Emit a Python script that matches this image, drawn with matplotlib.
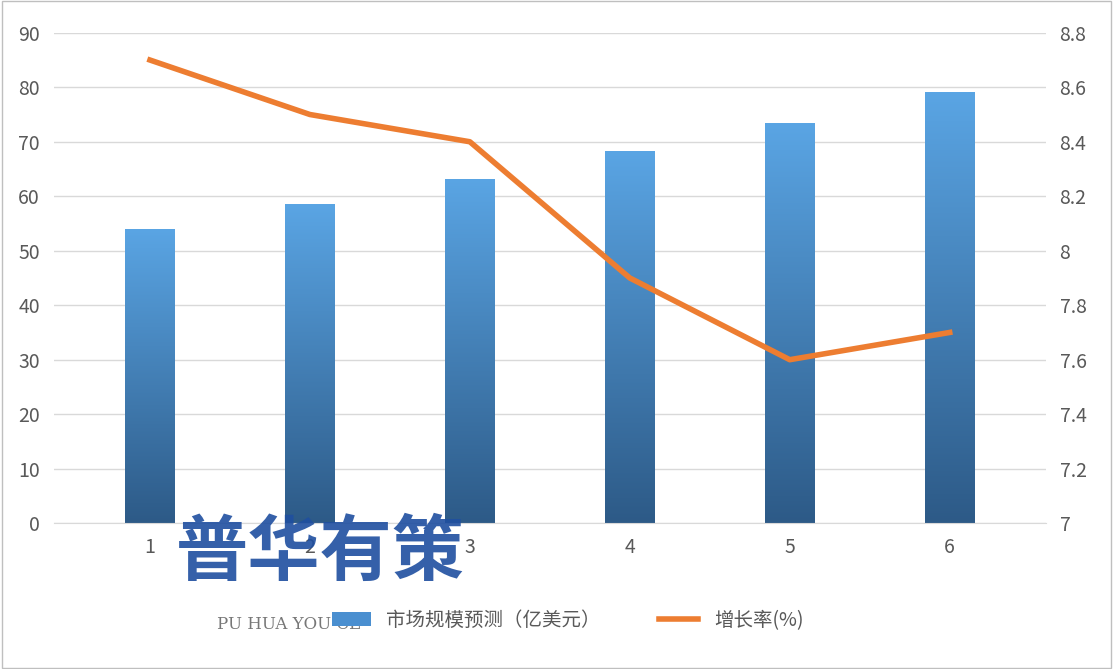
import numpy as np
import matplotlib.pyplot as plt
from matplotlib.colors import LinearSegmentedColormap
from matplotlib.patches import Patch
from matplotlib.lines import Line2D

plt.rcParams['font.family'] = ['Noto Sans CJK SC', 'DejaVu Sans']

categories = ['1', '2', '3', '4', '5', '6']
market_size = [54, 58.5, 63.2, 68.3, 73.4, 79.1]
growth_rate = [8.7, 8.5, 8.4, 7.9, 7.6, 7.7]

fig = plt.figure(figsize=(11.13, 6.69), dpi=100)
ax = fig.add_axes([0.0485, 0.218, 0.891, 0.733])
ax2 = ax.twinx()

x = np.arange(len(categories))
bars = ax.bar(x, market_size, width=0.31, color='none')
cmap = LinearSegmentedColormap.from_list('bl', ['#2d5a87', '#5aa5e4'])
grad = np.linspace(0, 1, 256).reshape(-1, 1)
for b in bars:
    im = ax.imshow(grad, cmap=cmap, origin='lower', aspect='auto',
                   extent=[b.get_x(), b.get_x() + b.get_width(), 0, b.get_height()], zorder=2)
    im.set_clip_path(b)
ax.set_xlim(-0.6, 5.6)
ax.set_ylim(0, 90)
ax.set_yticks(range(0, 91, 10))
ax.set_xticks(x)
ax.set_xticklabels(categories)
ax.grid(axis='y', color='#d9d9d9', lw=1)
ax.set_axisbelow(True)

ax2.plot(x, growth_rate, color='#ed7d31', lw=4, zorder=3)
ax2.set_ylim(7, 8.8)
ax2.set_yticks(np.arange(7, 8.81, 0.2))
ax2.set_yticklabels(['7', '7.2', '7.4', '7.6', '7.8', '8', '8.2', '8.4', '8.6', '8.8'])

for a in (ax, ax2):
    for s in a.spines.values():
        s.set_visible(False)
    a.tick_params(length=0, labelsize=14, colors='#595959', pad=10)
ax.spines['bottom'].set_visible(True)
ax.spines['bottom'].set_color('#d9d9d9')

handles = [Patch(facecolor='#4a8fd0', label='市场规模预测（亿美元）'),
           Line2D([0], [0], color='#ed7d31', lw=4, label='增长率(%)')]
fig.legend(handles=handles, loc='center', bbox_to_anchor=(0.51, 0.073), ncol=2,
           frameon=False, fontsize=14, labelcolor='#595959', columnspacing=3)

# watermark
fig.text(0.158, 0.14, '普华有策', fontsize=52, fontweight='bold', color='#1f4fa0', alpha=0.9)
fig.text(0.195, 0.06, 'PU HUA YOU CE', fontsize=12, family='DejaVu Serif', color='#777777')

fig.patches.append(plt.Rectangle((0.002, 0.002), 0.996, 0.996, transform=fig.transFigure,
                                 fill=False, edgecolor='#bfbfbf', lw=1))
fig.savefig('out.png')
